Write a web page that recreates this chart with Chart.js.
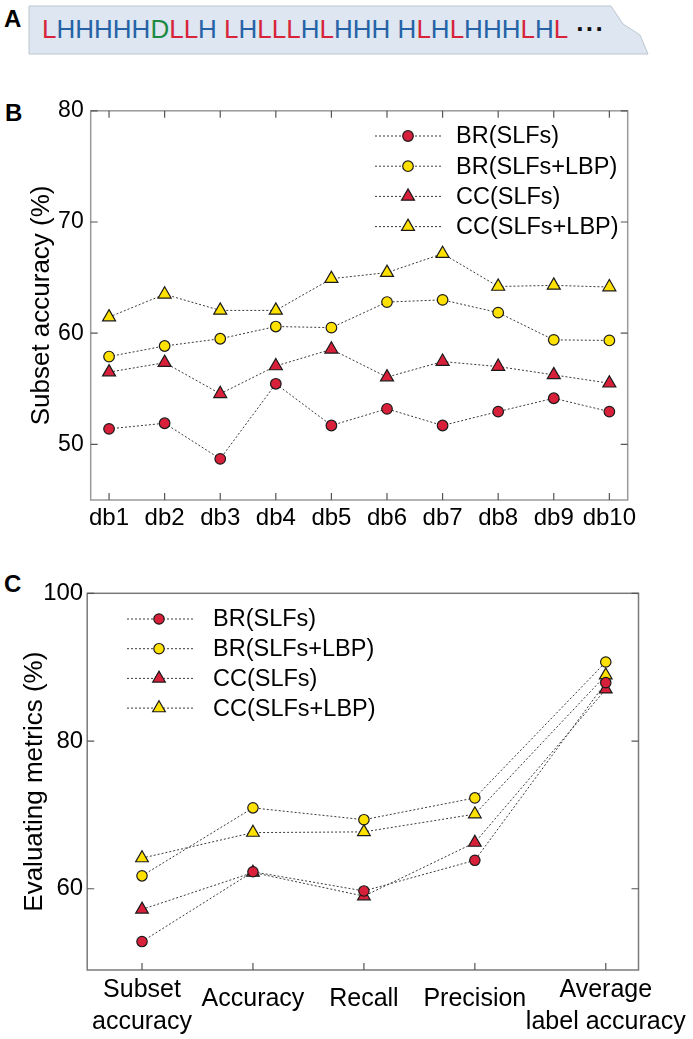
<!DOCTYPE html>
<html>
<head>
<meta charset="utf-8">
<script src="https://cdn.jsdelivr.net/npm/chart.js@4.4.0/dist/chart.umd.min.js"></script>
<style>
body { margin: 0; background: #fff; width: 693px; height: 1039px; position: relative; overflow: hidden; font-family: "Liberation Sans", Arial, sans-serif; }
.tag { position: absolute; font-weight: bold; font-size: 24px; line-height: 24px; color: #000; }
#banner { position: absolute; left: 0; top: 0; }
#seq { position: absolute; left: 42px; top: 16px; font-size: 26px; line-height: 26px; white-space: pre; }
#seq .dots { color: #111; font-weight: bold; margin-left: 8px; letter-spacing: 1px; }
canvas { position: absolute; left: 0; }
</style>
</head>
<body>
<div class="tag" style="left:4px;top:7px">A</div>
<svg id="banner" width="693" height="70">
  <polygon points="29,6 611,6 623,24 640,35 648,54 29,54" fill="#dde6f1" stroke="#bcc6d1" stroke-width="1"/>
</svg>
<div id="seq"></div>
<div class="tag" style="left:5px;top:101px">B</div>
<canvas id="chartB" width="693" height="460" style="top:90px"></canvas>
<div class="tag" style="left:4px;top:572px">C</div>
<canvas id="chartC" width="693" height="479" style="top:560px"></canvas>
<script>
// panel A sequence
var sequence = 'LHHHHHDLLH LHLLLHLHHH HLHLHHHLHL';
var letterColors = { L: '#d8243a', H: '#2563a6', D: '#1d8a43', ' ': '#000' };

// panel B data
var dbLabels = ['db1', 'db2', 'db3', 'db4', 'db5', 'db6', 'db7', 'db8', 'db9', 'db10'];
var brSlfs = [51.4, 51.9, 48.7, 55.45, 51.7, 53.2, 51.7, 52.95, 54.15, 52.95];
var brSlfsLbp = [57.9, 58.85, 59.5, 60.6, 60.5, 62.8, 63.0, 61.85, 59.4, 59.35];
var ccSlfs = [56.5, 57.35, 54.55, 57.05, 58.55, 56.05, 57.45, 57.0, 56.25, 55.5];
var ccSlfsLbp = [61.45, 63.5, 62.05, 62.05, 64.9, 65.45, 67.15, 64.2, 64.3, 64.15];
var bTicks = [50, 60, 70, 80];

// panel C data
var metricLabels = [['Subset', 'accuracy'], 'Accuracy', 'Recall', 'Precision', ['Average', 'label accuracy']];
var metricX = [1, 2, 3, 4, 5.18];
var brSlfsC = [52.85, 62.3, 59.7, 63.85, 87.9];
var brSlfsLbpC = [61.75, 70.95, 69.35, 72.3, 90.7];
var ccSlfsC = [57.2, 62.2, 59.0, 66.25, 87.0];
var ccSlfsLbpC = [64.15, 67.6, 67.7, 70.1, 88.9];
var cTicks = [60, 80, 100];

var seriesNames = ['BR(SLFs)', 'BR(SLFs+LBP)', 'CC(SLFs)', 'CC(SLFs+LBP)'];

var seqDiv = document.getElementById('seq');
for (var i = 0; i < sequence.length; i++) {
	var sp = document.createElement('span');
	sp.textContent = sequence[i];
	sp.style.color = letterColors[sequence[i]];
	seqDiv.appendChild(sp);
}
var dots = document.createElement('span');
dots.className = 'dots';
dots.textContent = '\u00b7\u00b7\u00b7';
seqDiv.appendChild(dots);

var RED = '#d9203a';
var YELLOW = '#ffe100';
var EDGE = '#1a1a1a';
var FONT = '"Liberation Sans", Arial, sans-serif';

function makeSet(name, values, xs, fill, style, radius) {
	return {
		label: name,
		data: values.map(function(v, i) { return { x: xs[i], y: v }; }),
		borderColor: '#3a3a3a',
		borderWidth: 1,
		borderDash: [2, 2],
		pointStyle: style,
		pointRadius: radius,
		pointHoverRadius: radius,
		pointBackgroundColor: fill,
		pointBorderColor: EDGE,
		pointBorderWidth: 1.2,
		fill: false,
		tension: 0
	};
}

var framePlugin = {
	id: 'frame',
	afterDraw: function(chart, args, opts) {
		var ctx = chart.ctx, a = chart.chartArea;
		var xs = chart.scales.x, ys = chart.scales.y;
		ctx.save();
		ctx.strokeStyle = opts.color;
		ctx.lineWidth = 1.5;
		ctx.strokeRect(a.left, a.top, a.right - a.left, a.bottom - a.top);
		ctx.strokeStyle = '#555';
		ctx.lineWidth = 1.2;
		ctx.beginPath();
		xs.ticks.forEach(function(t) {
			var px = xs.getPixelForValue(t.value);
			ctx.moveTo(px, a.bottom); ctx.lineTo(px, a.bottom - 7);
			if (opts.topTicks) { ctx.moveTo(px, a.top); ctx.lineTo(px, a.top + 7); }
		});
		ys.ticks.forEach(function(t) {
			var py = ys.getPixelForValue(t.value);
			ctx.moveTo(a.left, py); ctx.lineTo(a.left + 7, py);
			ctx.moveTo(a.right, py); ctx.lineTo(a.right - 7, py);
		});
		ctx.stroke();
		ctx.restore();
	}
};

var legendPlugin = {
	id: 'boxLegend',
	afterDraw: function(chart, args, opts) {
		var ctx = chart.ctx;
		ctx.save();
		chart.data.datasets.forEach(function(ds, i) {
			var y = opts.y0 + i * opts.dy;
			ctx.strokeStyle = '#3a3a3a';
			ctx.lineWidth = 1;
			ctx.setLineDash([2, 2]);
			ctx.beginPath();
			ctx.moveTo(opts.x0, y); ctx.lineTo(opts.x1, y);
			ctx.stroke();
			ctx.setLineDash([]);
			ctx.fillStyle = ds.pointBackgroundColor;
			ctx.strokeStyle = EDGE;
			ctx.lineWidth = 1.2;
			Chart.helpers.drawPoint(ctx, { pointStyle: ds.pointStyle, radius: ds.pointRadius, borderWidth: 1.2, rotation: 0 }, opts.xm, y);
			ctx.fillStyle = '#000';
			ctx.font = opts.size + 'px ' + FONT;
			ctx.textAlign = 'left';
			ctx.textBaseline = 'middle';
			ctx.fillText(ds.label, opts.tx, y + 1);
		});
		ctx.restore();
	}
};

var xB = dbLabels.map(function(l, i) { return i + 1; });

new Chart(document.getElementById('chartB'), {
	type: 'line',
	data: {
		datasets: [
			makeSet(seriesNames[0], brSlfs, xB, RED, 'circle', 5.3),
			makeSet(seriesNames[1], brSlfsLbp, xB, YELLOW, 'circle', 5.3),
			makeSet(seriesNames[2], ccSlfs, xB, RED, 'triangle', 7.5),
			makeSet(seriesNames[3], ccSlfsLbp, xB, YELLOW, 'triangle', 7.5)
		]
	},
	plugins: [framePlugin, legendPlugin],
	options: {
		responsive: false,
		animation: false,
		layout: { padding: { top: 20.5, right: 65.3, left: 0, bottom: 0 } },
		plugins: {
			legend: { display: false },
			tooltip: { enabled: false },
			frame: { color: '#9a9a9a', topTicks: true },
			boxLegend: { x0: 375, x1: 442, xm: 408, tx: 456, y0: 46, dy: 30.2, size: 23.5 }
		},
		scales: {
			x: {
				type: 'linear', min: 0.67, max: 10.33,
				afterBuildTicks: function(s) { s.ticks = xB.map(function(v) { return { value: v }; }); },
				afterFit: function(s) { s.height = 50; },
				grid: { display: false, drawTicks: false },
				border: { display: false },
				ticks: {
					autoSkip: false, maxRotation: 0, minRotation: 0, padding: 4, color: '#000',
					font: { family: FONT, size: 24 },
					callback: function(v, i) { return dbLabels[i]; }
				}
			},
			y: {
				min: 45, max: 80,
				afterBuildTicks: function(s) { s.ticks = bTicks.map(function(v) { return { value: v }; }); },
				afterFit: function(s) { s.width = 90.7; },
				grid: { display: false, drawTicks: false },
				border: { display: false },
				ticks: { padding: 7, color: '#000', font: { family: FONT, size: 23 } },
				title: { display: true, text: 'Subset accuracy (%)', color: '#000', font: { family: FONT, size: 26, lineHeight: 1.2 }, padding: { top: 26, bottom: 0 } }
			}
		}
	}
});

new Chart(document.getElementById('chartC'), {
	type: 'line',
	data: {
		datasets: [
			makeSet(seriesNames[0], brSlfsC, metricX, RED, 'circle', 5.2),
			makeSet(seriesNames[1], brSlfsLbpC, metricX, YELLOW, 'circle', 5.2),
			makeSet(seriesNames[2], ccSlfsC, metricX, RED, 'triangle', 7.3),
			makeSet(seriesNames[3], ccSlfsLbpC, metricX, YELLOW, 'triangle', 7.3)
		]
	},
	plugins: [framePlugin, legendPlugin],
	options: {
		responsive: false,
		animation: false,
		layout: { padding: { top: 33.3, right: 54.5, left: 0, bottom: 0 } },
		plugins: {
			legend: { display: false },
			tooltip: { enabled: false },
			frame: { color: '#7a7a7a', topTicks: false },
			boxLegend: { x0: 127, x1: 193, xm: 159, tx: 213, y0: 59, dy: 29.7, size: 23.5 }
		},
		scales: {
			x: {
				type: 'linear', min: 0.506, max: 5.475,
				afterBuildTicks: function(s) { s.ticks = metricX.map(function(v) { return { value: v }; }); },
				afterFit: function(s) { s.height = 69; },
				grid: { display: false, drawTicks: false },
				border: { display: false },
				ticks: {
					autoSkip: false, maxRotation: 0, minRotation: 0, padding: 4, color: '#000',
					font: function(c) {
						var two = Array.isArray(metricLabels[c.index]);
						return { family: FONT, size: 25, lineHeight: two ? 1.27 : 2.0 };
					},
					callback: function(v, i) { return metricLabels[i]; }
				}
			},
			y: {
				min: 49, max: 100,
				afterBuildTicks: function(s) { s.ticks = cTicks.map(function(v) { return { value: v }; }); },
				afterFit: function(s) { s.width = 87.2; },
				grid: { display: false, drawTicks: false },
				border: { display: false },
				ticks: { padding: 4, color: '#000', font: { family: FONT, size: 24 } },
				title: { display: true, text: 'Evaluating metrics (%)', color: '#000', font: { family: FONT, size: 26, lineHeight: 1.2 }, padding: { top: 19.4, bottom: 0 } }
			}
		}
	}
});
</script>
</body>
</html>
